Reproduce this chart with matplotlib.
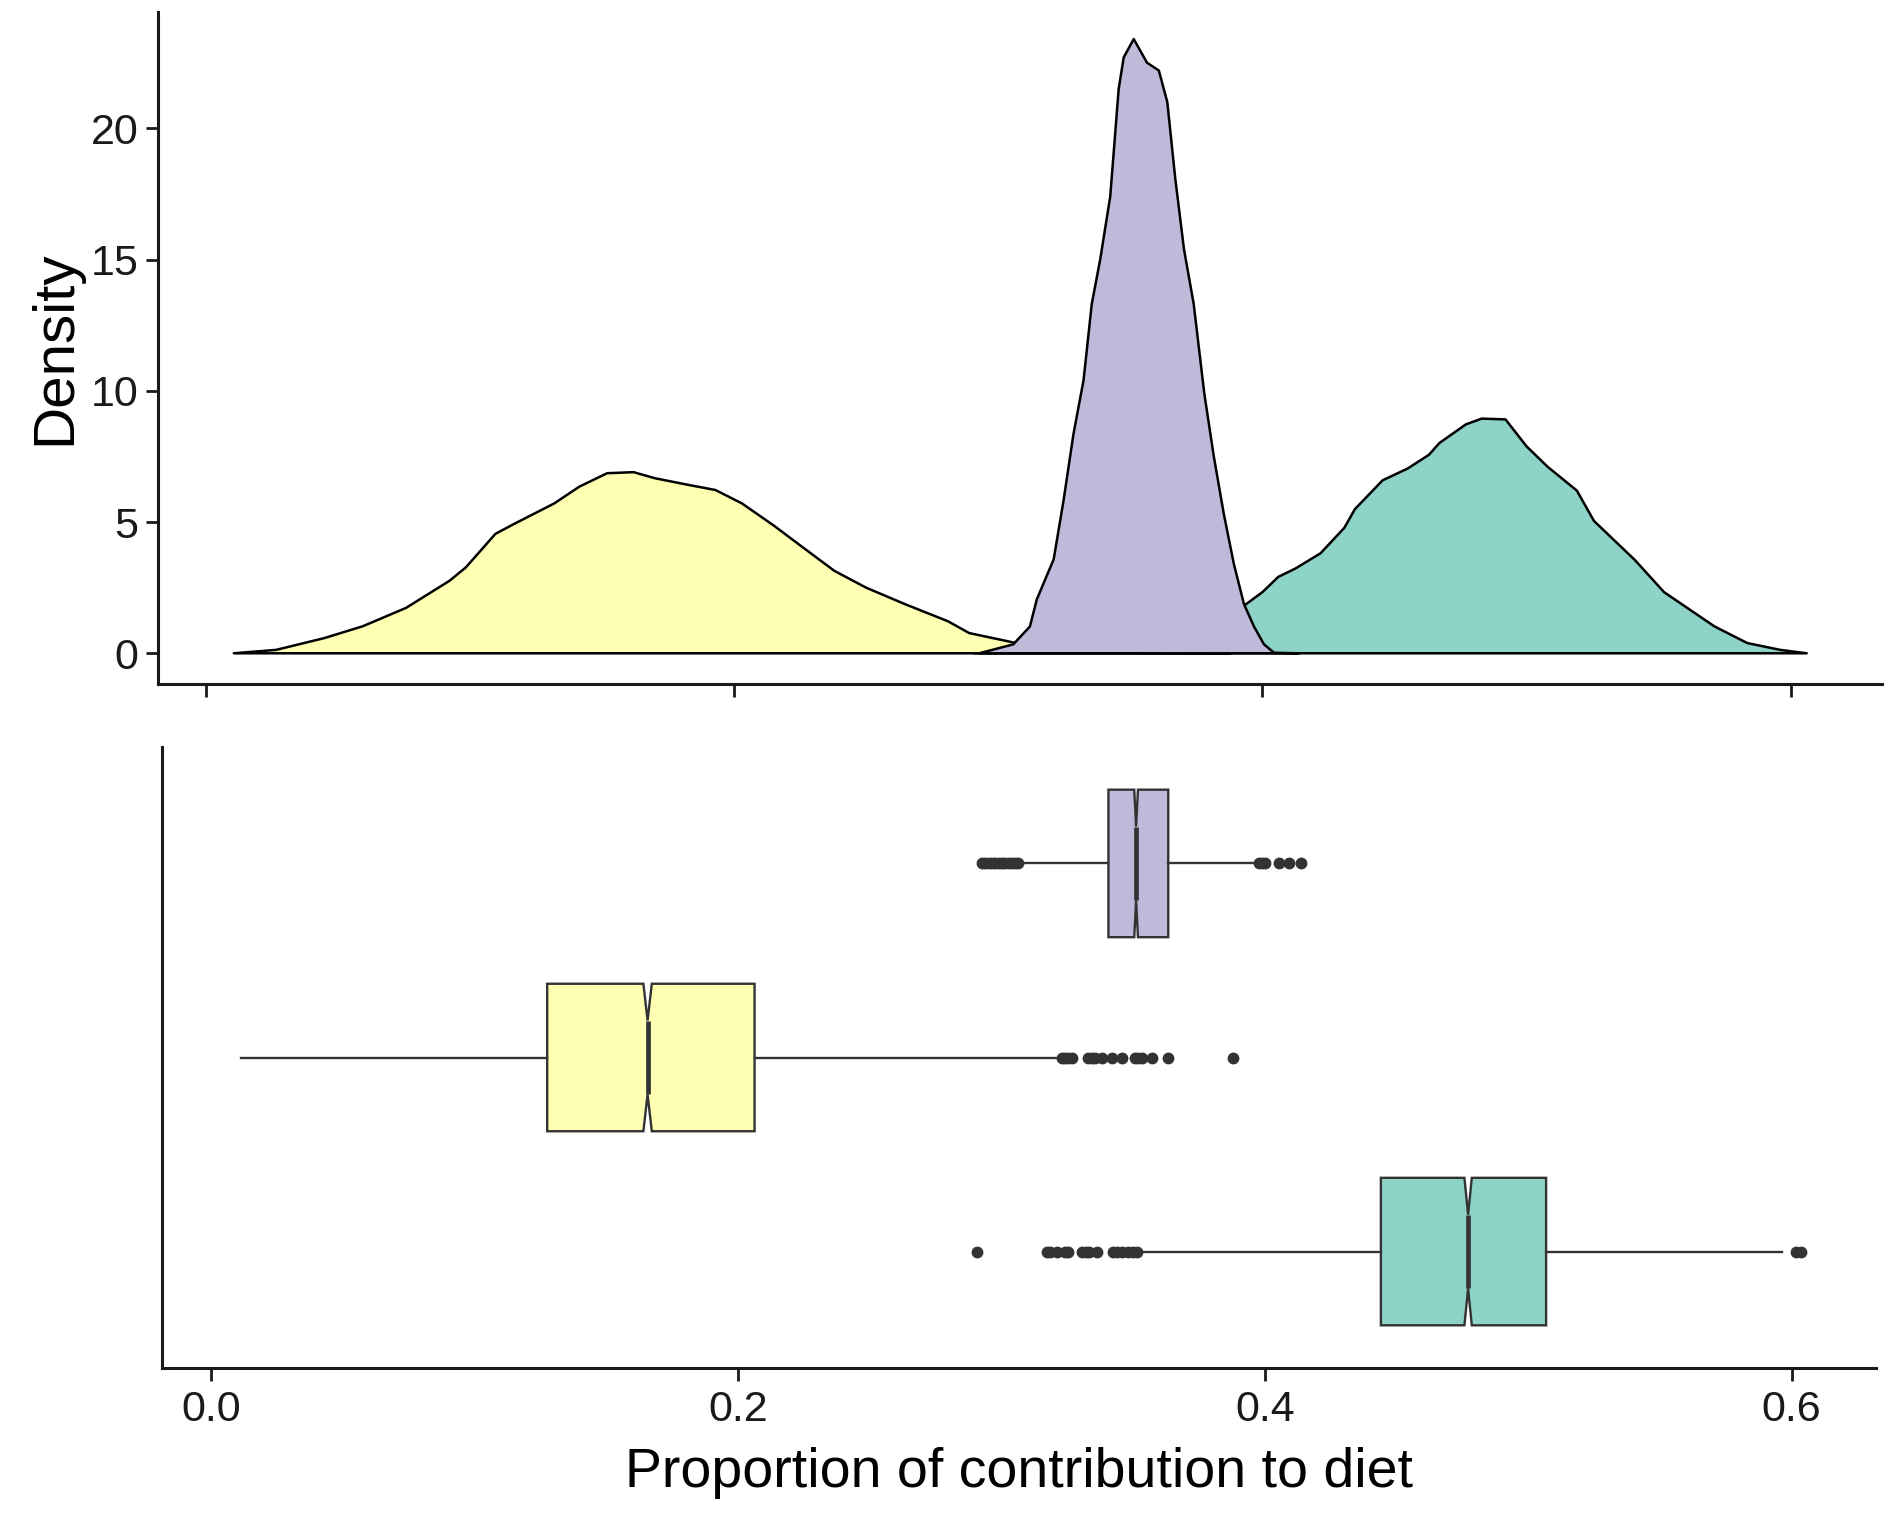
import matplotlib
matplotlib.use("Agg")
import matplotlib.pyplot as plt

plt.rcParams['font.family'] = ['Liberation Sans', 'DejaVu Sans']

# ---------------- data ----------------
groups = ["purple", "yellow", "green"]
colors = {"purple": "#BEBADA", "yellow": "#FFFFB3", "green": "#8DD3C7"}

# density curves (x, density)
yellow_x = [0.0107, 0.0267, 0.045, 0.0595, 0.0759, 0.0923, 0.0985, 0.1097, 0.117, 0.132,
            0.1415, 0.152, 0.162, 0.170, 0.183, 0.193, 0.203, 0.215, 0.226, 0.238,
            0.250, 0.265, 0.281, 0.289, 0.304, 0.315, 0.33, 0.35, 0.388]
yellow_y = [0, 0.13, 0.58, 1.03, 1.73, 2.76, 3.27, 4.55, 4.94, 5.71,
            6.35, 6.86, 6.9, 6.67, 6.41, 6.22, 5.71, 4.87, 4.04, 3.14,
            2.5, 1.86, 1.22, 0.77, 0.45, 0.2, 0.06, 0.02, 0]

green_x = [0.2909, 0.32, 0.35, 0.37, 0.385, 0.393, 0.400, 0.406, 0.4125, 0.422, 0.431,
           0.435, 0.4455, 0.455, 0.463, 0.467, 0.477, 0.483, 0.492, 0.500, 0.508,
           0.519, 0.5255, 0.541, 0.552, 0.571, 0.5835, 0.596, 0.606]
green_y = [0, 0.1, 0.4, 0.9, 1.4, 1.81, 2.33, 2.91, 3.23, 3.81, 4.78,
           5.49, 6.59, 7.04, 7.56, 8.01, 8.72, 8.94, 8.91, 7.88, 7.1,
           6.2, 5.04, 3.55, 2.33, 1.03, 0.39, 0.13, 0]

purple_x = [0.2928, 0.3057, 0.312, 0.3146, 0.321, 0.3247, 0.3285, 0.3323, 0.3354, 0.3386,
            0.3424, 0.3456, 0.3475, 0.3513, 0.3563, 0.3608, 0.364, 0.367, 0.3703, 0.374,
            0.378, 0.3816, 0.3854, 0.3892, 0.393, 0.3968, 0.4006, 0.4044, 0.4137]
purple_y = [0, 0.34, 1.02, 2.05, 3.58, 5.8, 8.36, 10.4, 13.3, 15.0,
            17.4, 21.5, 22.7, 23.4, 22.5, 22.2, 21.0, 18.1, 15.4, 13.3,
            9.9, 7.5, 5.3, 3.4, 1.88, 1.02, 0.34, 0.02, 0]

# box plot summaries
box_q1 = {"purple": 0.3407, "yellow": 0.1277, "green": 0.4441}
box_med = {"purple": 0.3512, "yellow": 0.1658, "green": 0.4772}
box_q3 = {"purple": 0.3634, "yellow": 0.2064, "green": 0.5068}
box_lo = {"purple": 0.3073, "yellow": 0.0115, "green": 0.3527}
box_hi = {"purple": 0.3966, "yellow": 0.3224, "green": 0.5963}
box_ci = {"purple": 0.0007, "yellow": 0.0016, "green": 0.0014}
fliers = {
    "purple": [0.2928, 0.2940, 0.2952, 0.2965, 0.2978, 0.2990, 0.3003, 0.3015, 0.3028,
               0.3040, 0.3053, 0.3065, 0.3980, 0.3990, 0.4000, 0.4054, 0.4092, 0.4137],
    "yellow": [0.3230, 0.3242, 0.3255, 0.3268, 0.3331, 0.3345, 0.3356, 0.3381, 0.3419,
               0.3457, 0.3508, 0.3520, 0.3533, 0.3571, 0.3634, 0.3881],
    "green": [0.2909, 0.3173, 0.3186, 0.3210, 0.3243, 0.3255, 0.3306, 0.3320, 0.3335,
              0.3363, 0.3426, 0.3440, 0.3457, 0.3480, 0.3502, 0.3515, 0.6015, 0.6035],
}
box_pos = {"purple": 3, "yellow": 2, "green": 1}

xticks = [0.0, 0.2, 0.4, 0.6]
xtick_labels = ["0.0", "0.2", "0.4", "0.6"]
yticks_top = [0, 5, 10, 15, 20]

# ---------------- figure ----------------
W, H = 1898, 1514
fig = plt.figure(figsize=(W / 100, H / 100), dpi=100)

def rect(l, r, t, b):
    return [l / W, 1 - b / H, (r - l) / W, (b - t) / H]

ax1 = fig.add_axes(rect(158, 1882, 12, 684))
ax2 = fig.add_axes(rect(161.7, 1876, 747, 1368))

line_c = "#333333"
axis_c = "#1a1a1a"

# densities
for xs, ys, g in [(green_x, green_y, "green"), (yellow_x, yellow_y, "yellow"),
                  (purple_x, purple_y, "purple")]:
    ax1.fill(xs, ys, facecolor=colors[g], edgecolor="black", linewidth=1.8, joinstyle="round")

ax1.set_xlim(-0.018, 0.6345)
ax1.set_ylim(-1.17, 24.43)
ax1.set_xticks(xticks)
ax1.set_xticklabels([])
ax1.set_yticks(yticks_top)
ax1.set_yticklabels([str(v) for v in yticks_top])
ax1.set_ylabel("Density", fontsize=42, labelpad=6)

# box plots
stats = []
for g in groups:
    stats.append(dict(q1=box_q1[g], med=box_med[g], q3=box_q3[g], whislo=box_lo[g],
                      whishi=box_hi[g], cilo=box_med[g] - box_ci[g],
                      cihi=box_med[g] + box_ci[g], fliers=fliers[g], label=g))
bp = ax2.bxp(stats, positions=[box_pos[g] for g in groups], widths=0.76,
             orientation="horizontal", shownotches=True, showcaps=False, patch_artist=True,
             boxprops=dict(edgecolor=line_c, linewidth=1.7),
             whiskerprops=dict(color=line_c, linewidth=1.7),
             medianprops=dict(color=line_c, linewidth=3.4),
             flierprops=dict(marker="o", markerfacecolor=line_c, markeredgecolor=line_c,
                             markersize=7.5, linestyle="none"))
for patch, g in zip(bp["boxes"], groups):
    patch.set_facecolor(colors[g])

ax2.set_xlim(-0.0186, 0.632)
ax2.set_ylim(0.4, 3.6)
ax2.set_yticks([])
ax2.set_xticks(xticks)
ax2.set_xticklabels(xtick_labels)
ax2.set_xlabel("Proportion of contribution to diet", fontsize=40, labelpad=12)

for ax in (ax1, ax2):
    for s in ("top", "right"):
        ax.spines[s].set_visible(False)
    for s in ("left", "bottom"):
        ax.spines[s].set_color(axis_c)
        ax.spines[s].set_linewidth(2.2)
    ax.tick_params(axis="both", colors=axis_c, width=2.0, length=9, labelsize=31,
                   labelcolor="#1a1a1a", pad=5)
ax2.tick_params(axis="x", pad=7)

fig.savefig("out.png", dpi=100, facecolor="white")
